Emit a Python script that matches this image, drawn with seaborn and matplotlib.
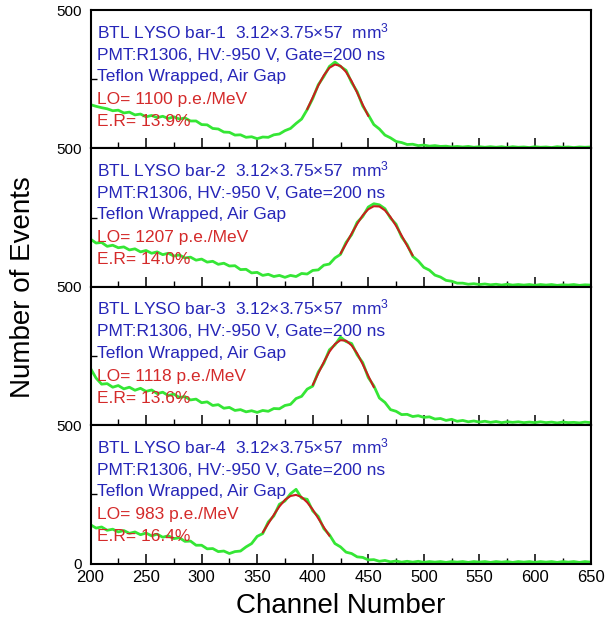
import numpy as np
import pandas as pd
import matplotlib
matplotlib.use("Agg")
import matplotlib.pyplot as plt
from matplotlib.ticker import MultipleLocator, FixedLocator
import seaborn as sns

# ---------------- data ----------------
channels = list(range(200, 651, 5))

bar1_counts = [158, 152, 147, 143, 136, 138, 128, 131, 121, 124,
               114, 119, 111, 116, 108, 114, 106, 110, 99, 99,
               86, 85, 72, 70, 59, 58, 48, 49, 40, 42,
               35, 41, 40, 49, 52, 64, 72, 90, 106, 140,
               180, 230, 260, 296, 312, 296, 282, 238, 205, 153,
               121, 86, 70, 48, 38, 25, 21, 14, 15, 10,
               12, 8, 10, 7, 8, 5, 7, 5, 7, 4,
               6, 4, 6, 4, 6, 3, 6, 4, 5, 3,
               6, 4, 5, 3, 6, 4, 5, 3, 5, 4,
               5]
bar2_counts = [172, 158, 160, 146, 150, 141, 144, 133, 137, 126,
               131, 121, 126, 116, 121, 111, 115, 104, 107, 96,
               100, 89, 92, 81, 85, 75, 76, 62, 63, 50,
               52, 41, 45, 37, 41, 34, 41, 37, 48, 46,
               59, 61, 78, 82, 104, 117, 160, 188, 233, 254,
               288, 300, 296, 282, 248, 226, 180, 152, 110, 93,
               70, 60, 42, 35, 23, 20, 13, 13, 9, 11,
               8, 10, 7, 9, 6, 9, 6, 8, 6, 8,
               5, 8, 6, 8, 5, 7, 6, 8, 5, 7,
               6]
bar3_counts = [205, 170, 148, 150, 137, 143, 131, 137, 126, 133,
               122, 127, 114, 119, 107, 112, 100, 103, 91, 94,
               81, 84, 71, 74, 61, 64, 53, 56, 48, 52,
               46, 53, 50, 60, 59, 71, 75, 96, 104, 130,
               141, 192, 224, 272, 290, 318, 302, 295, 254, 226,
               172, 142, 98, 82, 56, 50, 38, 39, 31, 34,
               28, 30, 22, 24, 17, 21, 14, 17, 12, 15,
               11, 14, 10, 13, 9, 12, 10, 12, 9, 11,
               9, 12, 9, 11, 8, 11, 9, 10, 8, 11,
               9]
bar4_counts = [140, 128, 132, 120, 124, 114, 119, 109, 114, 104,
               110, 100, 106, 95, 100, 90, 93, 80, 81, 66,
               66, 53, 54, 43, 45, 36, 43, 45, 60, 72,
               98, 108, 150, 172, 214, 226, 252, 268, 236, 232,
               190, 170, 126, 104, 72, 60, 41, 36, 24, 22,
               13, 14, 8, 11, 6, 9, 5, 8, 5, 8,
               4, 7, 5, 7, 4, 7, 5, 7, 4, 7,
               5, 7, 4, 7, 5, 7, 4, 7, 5, 7,
               4, 7, 5, 7, 4, 7, 5, 7, 4, 7,
               5]

fit1_x = [395, 400, 405, 410, 415, 420, 425, 430, 435, 440, 445, 450]
fit1_y = [141, 184, 227, 264, 291, 303, 298, 276, 243, 201, 158, 117]
fit2_x = [425, 430, 435, 440, 445, 450, 455, 460, 465, 470, 475, 480, 485, 490]
fit2_y = [120, 155, 192, 227, 258, 280, 291, 290, 276, 252, 220, 185, 148, 113]
fit3_x = [400, 405, 410, 415, 420, 425, 430, 435, 440, 445, 450, 455]
fit3_y = [145, 187, 228, 265, 293, 307, 305, 288, 259, 220, 178, 137]
fit4_x = [355, 360, 365, 370, 375, 380, 385, 390, 395, 400, 405, 410, 415]
fit4_y = [112, 144, 176, 206, 230, 244, 248, 240, 221, 195, 163, 131, 100]

bar_names = ["bar-1", "bar-2", "bar-3", "bar-4"]
light_output = ["1100", "1207", "1118", "983"]
energy_res = ["13.9%", "14.0%", "13.6%", "16.4%"]

x_ticks = [200, 250, 300, 350, 400, 450, 500, 550, 600, 650]

spectra = [bar1_counts, bar2_counts, bar3_counts, bar4_counts]
fits = [(fit1_x, fit1_y), (fit2_x, fit2_y), (fit3_x, fit3_y), (fit4_x, fit4_y)]

# ---------------- style ----------------
sns.set_theme(style="ticks")
plt.rcParams["font.family"] = ["Liberation Sans", "DejaVu Sans"]
plt.rcParams["mathtext.fontset"] = "custom"
plt.rcParams["mathtext.rm"] = "Liberation Sans"
plt.rcParams["mathtext.it"] = "Liberation Sans"
plt.rcParams["text.color"] = "black"
plt.rcParams["xtick.color"] = "black"
plt.rcParams["ytick.color"] = "black"
plt.rcParams["xtick.labelcolor"] = "black"
plt.rcParams["ytick.labelcolor"] = "black"

GREEN = "#35e635"
FITRED = "#c81e1e"
BLUE = "#2626b8"
TXTRED = "#d42a2a"

W, H = 606, 623
fig = plt.figure(figsize=(W / 100, H / 100), dpi=100)

left_px, right_px, top_px, bot_px = 90.5, 590.5, 10.0, 563.5
ph = (bot_px - top_px) / 4.0

for i in range(4):
    y_top = top_px + i * ph
    ax = fig.add_axes([left_px / W, 1 - (y_top + ph) / H,
                       (right_px - left_px) / W, ph / H])
    df = pd.DataFrame({"channel": channels, "counts": spectra[i]})
    sns.lineplot(data=df, x="channel", y="counts", ax=ax, color=GREEN,
                 lw=2.0, estimator=None)
    fdf = pd.DataFrame({"channel": fits[i][0], "counts": fits[i][1]})
    sns.lineplot(data=fdf, x="channel", y="counts", ax=ax, color=FITRED,
                 lw=1.5, estimator=None)

    ax.set_xlim(200, 650)
    ax.set_ylim(0, 500)
    ax.set_xlabel("")
    ax.set_ylabel("")
    ax.xaxis.set_major_locator(FixedLocator(x_ticks))
    ax.xaxis.set_minor_locator(MultipleLocator(25))
    ax.set_yticks([0, 500])
    ax.yaxis.set_minor_locator(FixedLocator([250]))
    if i < 3:
        ax.set_yticklabels(["", "500"])
        ax.tick_params(axis="x", labelbottom=False)
    else:
        ax.set_yticklabels(["0", "500"])
        ax.set_xticklabels([str(v) for v in x_ticks])
    ax.tick_params(which="both", direction="in", top=False, right=False,
                   color="black", labelcolor="black")
    ax.tick_params(axis="x", which="major", length=7, width=1.1,
                   labelsize=12, pad=5)
    ax.tick_params(axis="x", which="minor", length=4, width=1.0)
    ax.tick_params(axis="y", which="major", length=0, labelsize=11, pad=6)
    ax.tick_params(axis="y", which="minor", length=4, width=1.0)
    for s in ax.spines.values():
        s.set_linewidth(1.5)
        s.set_color("black")
        s.set_visible(True)

    lines = [
        (f"BTL LYSO {bar_names[i]}  3.12\u00d73.75\u00d757  mm$^3$", BLUE),
        ("PMT:R1306, HV:-950 V, Gate=200 ns", BLUE),
        ("Teflon Wrapped, Air Gap", BLUE),
        (f"LO= {light_output[i]} p.e./MeV", TXTRED),
        (f"E.R= {energy_res[i]}", TXTRED),
    ]
    offs = [28, 49.5, 71, 94, 116]
    for (txt, col), o in zip(lines, offs):
        ax.text(6.8 / (right_px - left_px), 1 - o / ph, txt, color=col,
                fontsize=12.5, transform=ax.transAxes, va="baseline",
                ha="left")

fig.text(23 / W, 1 - 287 / H, "Number of Events", rotation=90,
         fontsize=20, ha="center", va="center", color="black")
fig.text(340.5 / W, 1 - 613 / H, "Channel Number", fontsize=20,
         ha="center", va="baseline", color="black")

fig.savefig("out.png", dpi=100)
